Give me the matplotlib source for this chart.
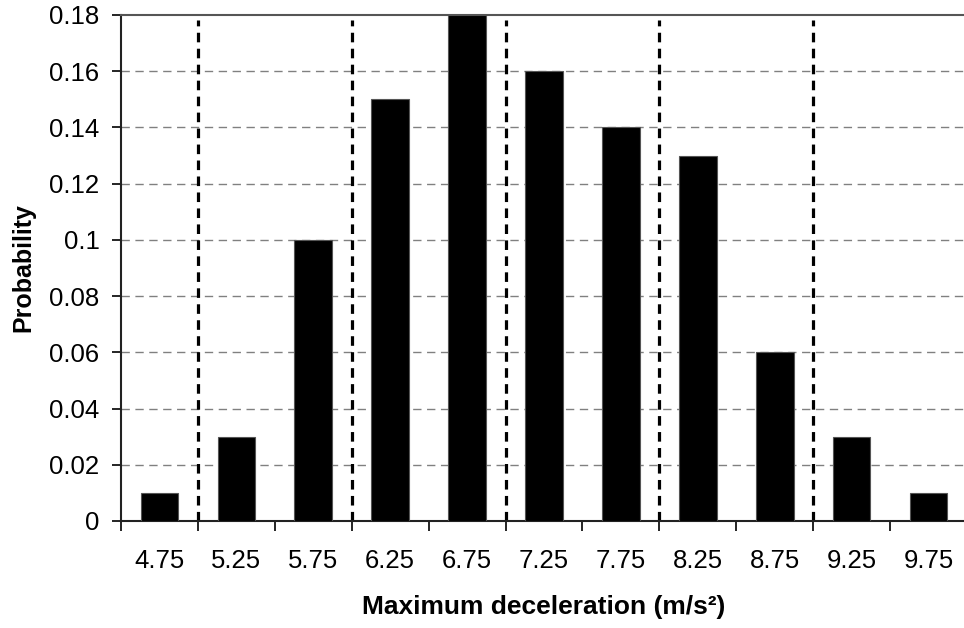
import numpy as np
import matplotlib
matplotlib.use('Agg')
import matplotlib.pyplot as plt

plt.rcParams['font.family'] = ['Liberation Sans', 'DejaVu Sans']

decel_labels = ['4.75', '5.25', '5.75', '6.25', '6.75', '7.25',
                '7.75', '8.25', '8.75', '9.25', '9.75']
probability = [0.01, 0.03, 0.10, 0.15, 0.18, 0.16, 0.14, 0.13, 0.06, 0.03, 0.01]
y_ticks = [0, 0.02, 0.04, 0.06, 0.08, 0.1, 0.12, 0.14, 0.16, 0.18]
y_tick_labels = ['0', '0.02', '0.04', '0.06', '0.08', '0.1',
                 '0.12', '0.14', '0.16', '0.18']
vline_bounds = [0.5, 2.5, 4.5, 6.5, 8.5]

fig = plt.figure(figsize=(9.64, 6.28), dpi=100)
ax = fig.add_axes([121 / 964, 107 / 628, 846 / 964, 506 / 628])

x = np.arange(len(decel_labels))
ax.bar(x, probability, width=0.49, color='black', edgecolor='#555555',
       linewidth=0.8, zorder=3)

# horizontal grid
for yv in y_ticks[1:-1]:
    ax.axhline(yv, color='#808080', linestyle=(0, (6, 4)), linewidth=1.0, zorder=1)
# vertical bold dashed lines at every other boundary
for xv in vline_bounds:
    ax.axvline(xv, ymin=0, ymax=0.99, color='black', linestyle=(0, (3, 2)),
               linewidth=2.3, zorder=2)

ax.set_xlim(-0.5, len(decel_labels) - 0.5)
ax.set_ylim(0, 0.18)

ax.set_xticks(x)
ax.set_xticklabels(decel_labels)
ax.set_xticks(np.arange(-0.5, len(decel_labels), 1.0), minor=True)
ax.tick_params(axis='x', which='major', length=0, pad=20, labelsize=18.5)
ax.tick_params(axis='x', which='minor', length=7, width=1.2, direction='out')

ax.set_yticks(y_ticks)
ax.set_yticklabels(y_tick_labels)
ax.tick_params(axis='y', length=6.5, width=1.2, pad=9, labelsize=18.5)

for s in ['left', 'bottom']:
    ax.spines[s].set_linewidth(1.5)
    ax.spines[s].set_color('#222222')
ax.spines['top'].set_color('#555555')
ax.spines['top'].set_linewidth(1.5)
ax.spines['right'].set_visible(False)

ax.set_xlabel('Maximum deceleration (m/s²)', fontsize=19,
              fontweight='bold', labelpad=16)
ax.set_ylabel('Probability', fontsize=18, fontweight='bold', labelpad=10)

fig.savefig('out.png', dpi=100)
